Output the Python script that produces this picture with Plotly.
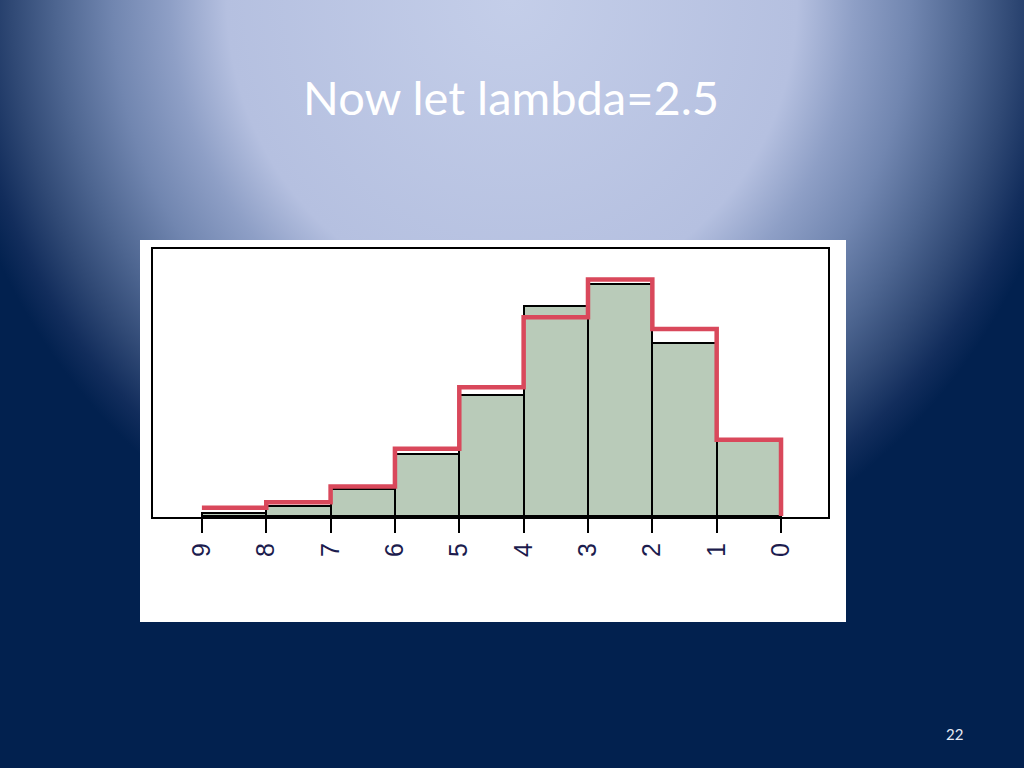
import base64
import plotly.graph_objects as go

# ---- data ----
bins = [0, 1, 2, 3, 4, 5, 6, 7, 8]                      # histogram bins [k, k+1)
observed = [0.082, 0.188, 0.252, 0.228, 0.132, 0.067, 0.029, 0.011, 0.003]  # bar heights (density)
expected = [0.083, 0.203, 0.257, 0.216, 0.140, 0.073, 0.032, 0.015, 0.009]  # red step line (Poisson pmf)
tick_vals = [0, 1, 2, 3, 4, 5, 6, 7, 8, 9]
tick_text = ["0", "1", "2", "3", "4", "5", "6", "7", "8", "9"]
title_text = "Now let lambda=2.5"
page_number = "22"

W, H = 1024, 768

def px_x(p):
    return p / W

def px_y(p):
    return 1 - p / H

# slide background: radial gradient as an inline SVG image
svg = f'''<svg xmlns="http://www.w3.org/2000/svg" width="{W}" height="{H}" viewBox="0 0 {W} {H}">
<defs><radialGradient id="g" cx="0" cy="0" r="1" gradientUnits="userSpaceOnUse"
 gradientTransform="translate(512,0) scale(570,600)">
<stop offset="0" stop-color="#c4cee9"/>
<stop offset="0.50" stop-color="#b5c0e0"/>
<stop offset="0.60" stop-color="#8e9fc6"/>
<stop offset="0.70" stop-color="#7186b0"/>
<stop offset="0.80" stop-color="#4d6590"/>
<stop offset="0.88" stop-color="#2f4874"/>
<stop offset="0.95" stop-color="#122d5c"/>
<stop offset="1" stop-color="#02214f"/>
</radialGradient></defs>
<rect x="0" y="0" width="{W}" height="{H}" fill="#02214f"/>
<rect x="0" y="0" width="{W}" height="{H}" fill="url(#g)"/>
</svg>'''
bg_uri = "data:image/svg+xml;base64," + base64.b64encode(svg.encode()).decode()

fig = go.Figure()

fig.add_trace(go.Bar(
    x=[b + 0.5 for b in bins],
    y=observed,
    width=1,
    marker=dict(color="#b9cbb9", line=dict(color="black", width=2)),
    hoverinfo="skip",
    showlegend=False,
))

step_x = [b + 1 for b in reversed(bins)] + [0]
step_y = list(reversed(expected)) + [0]
fig.add_trace(go.Scatter(
    x=step_x,
    y=step_y,
    mode="lines",
    line=dict(color="#d9485b", width=4.5, shape="hv"),
    hoverinfo="skip",
    showlegend=False,
))

fig.update_layout(
    width=W,
    height=H,
    margin=dict(l=0, r=0, t=0, b=0),
    paper_bgcolor="#02214f",
    plot_bgcolor="white",
    bargap=0,
    images=[dict(
        source=bg_uri, xref="paper", yref="paper",
        x=0, y=1, sizex=1, sizey=1, xanchor="left", yanchor="top",
        sizing="stretch", layer="below",
    )],
    shapes=[dict(
        type="rect", xref="paper", yref="paper",
        x0=px_x(140), x1=px_x(846), y0=px_y(622), y1=px_y(240),
        fillcolor="white", line=dict(width=0), layer="below",
    )],
    xaxis=dict(
        domain=[px_x(153), px_x(828)],
        range=[9.76, -0.73],
        tickmode="array",
        tickvals=tick_vals,
        ticktext=tick_text,
        ticks="outside",
        ticklen=14,
        tickwidth=2,
        tickcolor="black",
        tickangle=-90,
        tickfont=dict(family="Liberation Sans, Arial, sans-serif", size=25, color="#1c1c4e"),
        showline=True,
        linecolor="black",
        linewidth=2,
        mirror=True,
        showgrid=False,
        zeroline=False,
    ),
    yaxis=dict(
        domain=[px_y(517), px_y(249)],
        range=[-0.001, 0.290],
        showticklabels=False,
        ticks="",
        showline=True,
        linecolor="black",
        linewidth=2,
        mirror=True,
        showgrid=False,
        zeroline=False,
    ),
    annotations=[
        dict(
            text=title_text, xref="paper", yref="paper",
            x=px_x(511), y=px_y(97), xanchor="center", yanchor="middle",
            showarrow=False,
            font=dict(family="Lato, Open Sans, sans-serif", size=47, color="white"),
        ),
        dict(
            text=page_number, xref="paper", yref="paper",
            x=px_x(954), y=px_y(734), xanchor="center", yanchor="middle",
            showarrow=False,
            font=dict(family="Lato, Open Sans, sans-serif", size=15, color="#e6ebf5"),
        ),
    ],
)

fig.write_html(
    "out.html",
    config={"displayModeBar": False},
    post_script="document.body.style.margin='0';document.body.style.overflow='hidden';",
)
